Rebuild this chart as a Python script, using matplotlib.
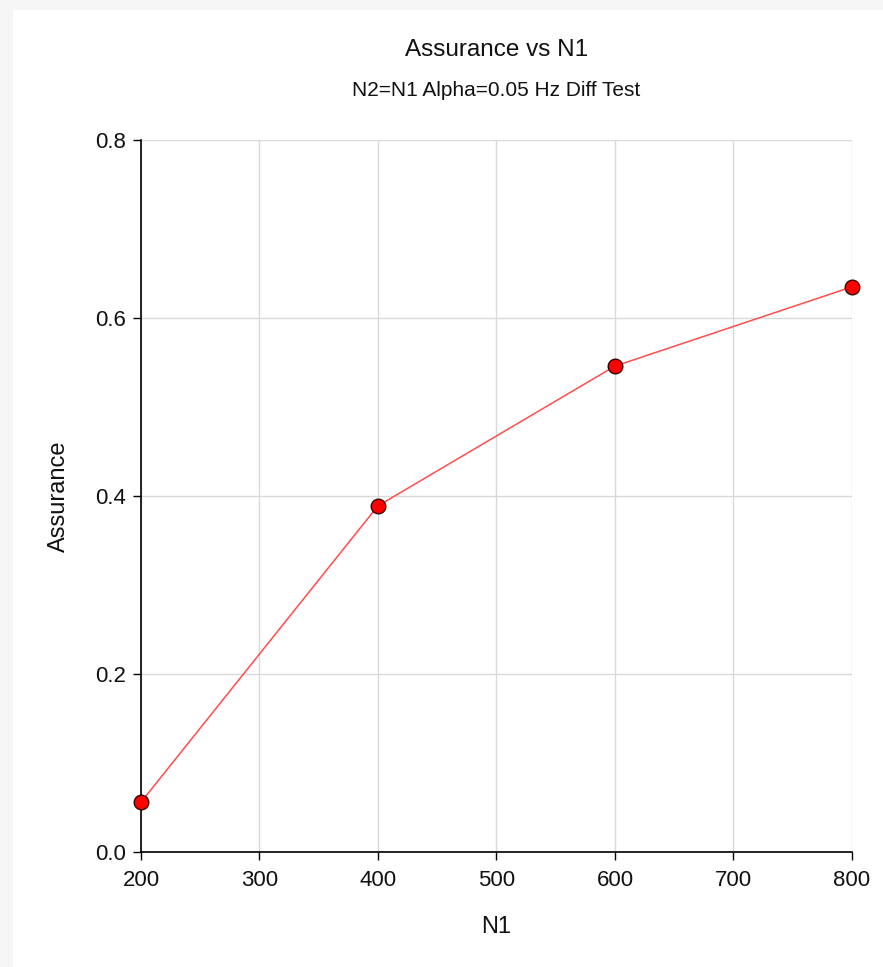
import matplotlib
matplotlib.use("Agg")
import matplotlib.pyplot as plt
from matplotlib.patches import Rectangle

# ==========================
# DATA
# ==========================
n1 = [200, 400, 600, 800]
assurance = [0.056, 0.389, 0.546, 0.635]

x_ticks = [200, 300, 400, 500, 600, 700, 800]
y_ticks = [0.0, 0.2, 0.4, 0.6, 0.8]

TITLE = "Assurance vs N1"
SUBTITLE = "N2=N1 Alpha=0.05 Hz Diff Test"

plt.rcParams["font.family"] = ["Liberation Sans", "DejaVu Sans"]
TEXT_COLOR = "#111111"

# ==========================
# FIGURE
# ==========================
fig = plt.figure(figsize=(8.83, 9.67), dpi=100)
fig.patch.set_facecolor("#f5f5f5")
# white panel behind everything
panel = Rectangle((13 / 883, 0), 1, 957 / 967, transform=fig.transFigure,
                  facecolor="white", edgecolor="none", zorder=-10)
fig.add_artist(panel)

ax = fig.add_axes([141 / 883, 115 / 967, 711 / 883, 712 / 967])
ax.set_facecolor("white")

ax.plot(n1, assurance, color="#ff4d4d", linewidth=1.1, zorder=3)
ax.plot(n1, assurance, linestyle="none", marker="o", markersize=10.5,
        markerfacecolor="#ff0000", markeredgecolor="#3a0000", markeredgewidth=1.0,
        zorder=4, clip_on=False)

ax.set_xlim(200, 800)
ax.set_ylim(0, 0.8)
ax.set_xticks(x_ticks)
ax.set_yticks(y_ticks)
ax.set_yticklabels([f"{v:.1f}" for v in y_ticks])

ax.grid(True, color="#d9d9d9", linewidth=1.0)
ax.set_axisbelow(True)

for s in ["top", "right"]:
    ax.spines[s].set_visible(False)
for s in ["left", "bottom"]:
    ax.spines[s].set_color("black")
    ax.spines[s].set_linewidth(1.2)

ax.tick_params(axis="both", direction="out", length=6, width=1.0, color="black",
               labelsize=16, labelcolor=TEXT_COLOR)
ax.tick_params(axis="y", pad=5)
ax.tick_params(axis="x", pad=7)

ax.set_xlabel("N1", fontsize=17, labelpad=18, color=TEXT_COLOR)
ax.set_ylabel("Assurance", fontsize=17, labelpad=18, color=TEXT_COLOR)

fig.text(0.5 * (141 + 852) / 883, 1 - 50 / 967, TITLE, ha="center", va="center",
         fontsize=17.5, color=TEXT_COLOR)
fig.text(0.5 * (141 + 852) / 883, 1 - 91 / 967, SUBTITLE, ha="center", va="center",
         fontsize=15, color=TEXT_COLOR)

fig.savefig("out.png", dpi=100, facecolor=fig.get_facecolor())
